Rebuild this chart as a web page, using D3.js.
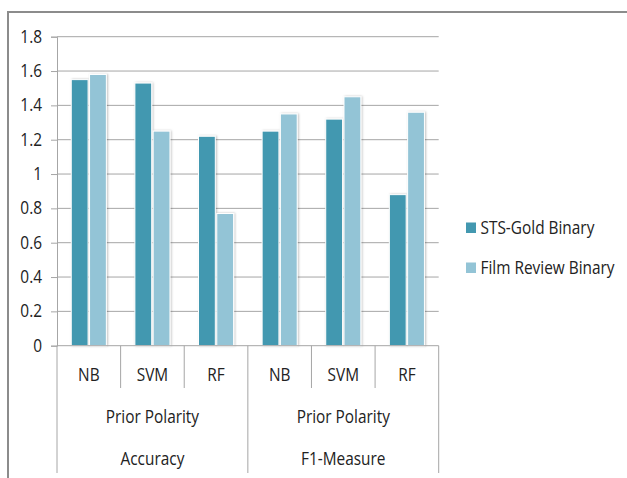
<!DOCTYPE html>
<html>
<head>
<meta charset="utf-8">
<script src="https://cdn.jsdelivr.net/npm/d3@7"></script>
<style>
  html, body { margin: 0; padding: 0; background: #fff; }
  svg text { font-family: "Open Sans", sans-serif; fill: #222; }
</style>
</head>
<body>
<svg id="chart" width="627" height="478"></svg>
<script>
// Classifier results, grouped by measure (Accuracy / F1-Measure)
const measures = ["Accuracy", "F1-Measure"];
const featureSet = "Prior Polarity";
const classifiers = ["NB", "SVM", "RF"];
const seriesNames = ["STS-Gold Binary", "Film Review Binary"];
const stsGold = [1.55, 1.53, 1.22, 1.25, 1.32, 0.88];
const filmReview = [1.58, 1.25, 0.77, 1.35, 1.45, 1.36];
const yTicks = [0, 0.2, 0.4, 0.6, 0.8, 1, 1.2, 1.4, 1.6, 1.8];

const colors = ["#4398b0", "#93c4d6"];
const fontSize = 17.5;
const squeeze = 0.88; // horizontal condensing of label text
const svg = d3.select("#chart");

// place a condensed text label at (x, y)
function label(parent, x, y, str, anchor) {
  return parent.append("text")
    .attr("transform", `translate(${x},${y}) scale(${squeeze},1)`)
    .attr("dy", "0.35em").attr("text-anchor", anchor || "middle")
    .attr("font-size", fontSize).text(str);
}

// outer frame (only top and left edges fall inside the canvas)
svg.append("path").attr("d", "M8,478 V12 H627")
  .attr("fill", "none").attr("stroke", "#8c8c8c").attr("stroke-width", 2);

const plotLeft = 57, plotRight = 438.7, plotTop = 36.7, plotBottom = 345.7;
const keys = [];
measures.forEach(m => classifiers.forEach(c => keys.push(m + "|" + c)));

const x = d3.scaleBand().domain(keys).range([plotLeft, plotRight]).paddingInner(0).paddingOuter(0);
const xs = d3.scaleBand().domain(seriesNames).range([0, x.bandwidth()]).paddingInner(0.08).paddingOuter(0.78);
const y = d3.scaleLinear().domain([0, 1.8]).range([plotBottom, plotTop]);

// y axis
const yAxis = d3.axisLeft(y).tickValues(yTicks).tickSize(6).tickFormat(d3.format("~g"));
const gy = svg.append("g").attr("transform", `translate(${plotLeft},0)`).call(yAxis);
gy.select(".domain").attr("stroke", "#a6a6a6");
gy.selectAll(".tick line").attr("stroke", "#a6a6a6");
gy.selectAll(".tick text")
  .attr("x", -15 / squeeze).attr("font-size", fontSize).attr("fill", "#222")
  .attr("font-family", "Open Sans, sans-serif")
  .attr("transform", `scale(${squeeze},1)`);

// horizontal gridlines
svg.append("g").selectAll("line").data(yTicks.filter(d => d > 0)).join("line")
  .attr("x1", plotLeft).attr("x2", plotRight).attr("y1", d => y(d)).attr("y2", d => y(d))
  .attr("stroke", "#a6a6a6").attr("stroke-width", 1);

// bars
const rows = keys.map((k, i) => ({ key: k, values: [stsGold[i], filmReview[i]] }));
const defs = svg.append("defs");
defs.append("filter").attr("id", "shadow").attr("x", "-20%").attr("y", "-5%").attr("width", "140%").attr("height", "110%")
  .append("feDropShadow").attr("dx", 1).attr("dy", 0).attr("stdDeviation", 1).attr("flood-color", "#000").attr("flood-opacity", 0.25);

const g = svg.append("g").selectAll("g").data(rows).join("g")
  .attr("transform", d => `translate(${x(d.key)},0)`);
g.selectAll("rect").data(d => d.values.map((v, i) => ({ s: seriesNames[i], v, i }))).join("rect")
  .attr("x", d => xs(d.s)).attr("width", xs.bandwidth())
  .attr("y", d => y(d.v)).attr("height", d => y(0) - y(d.v))
  .attr("fill", d => colors[d.i]).attr("stroke", "#fff").attr("stroke-width", 1)
  .attr("filter", "url(#shadow)");

// baseline
svg.append("line").attr("x1", plotLeft).attr("x2", plotRight).attr("y1", plotBottom).attr("y2", plotBottom)
  .attr("stroke", "#a6a6a6");

// multi-level category axis
const cat = svg.append("g");
keys.forEach((k, i) => {
  const x0 = x(k);
  const isGroupEdge = i % 3 === 0;
  cat.append("line").attr("x1", x0).attr("x2", x0).attr("y1", plotBottom).attr("y2", isGroupEdge ? 473 : 388)
    .attr("stroke", "#a6a6a6");
  label(cat, x0 + x.bandwidth() / 2, 375, k.split("|")[1]);
});
cat.append("line").attr("x1", plotRight).attr("x2", plotRight).attr("y1", plotBottom).attr("y2", 473).attr("stroke", "#a6a6a6");
measures.forEach(m => {
  const cx = x(m + "|" + classifiers[0]) + x.bandwidth() * 1.5;
  label(cat, cx, 416.7, featureSet);
  label(cat, cx, 459, m);
});

// legend
const lg = svg.append("g");
seriesNames.forEach((s, i) => {
  const ly = 228 + i * 40;
  lg.append("rect").attr("x", 466).attr("y", ly - 5.5).attr("width", 10).attr("height", 10.5).attr("fill", colors[i]);
  label(lg, 480.5, ly, s, "start");
});
</script>
</body>
</html>
